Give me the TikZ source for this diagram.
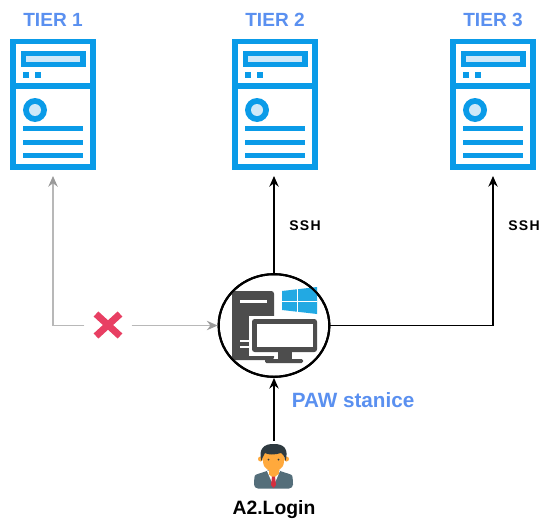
\documentclass[tikz,border=0pt]{standalone}
\usepackage{fontspec}
\setmainfont{Liberation Sans}
\usetikzlibrary{arrows.meta,shapes.geometric}
\definecolor{srvblue}{HTML}{0A9BE8}
\definecolor{srvlight}{HTML}{CFE8F8}
\definecolor{tierblue}{HTML}{5A90F0}
\definecolor{pcgrey}{HTML}{4D4D4D}
\definecolor{winblue}{HTML}{22A9E3}
\definecolor{xred}{HTML}{E83F63}
\definecolor{linegrey}{HTML}{B8B8B8}
\definecolor{tipgrey}{HTML}{9A9A9A}
\definecolor{hairc}{HTML}{2E3A40}
\definecolor{skinc}{HTML}{FFA93C}
\definecolor{suitc}{HTML}{546E7A}
\definecolor{tiec}{HTML}{D32F3F}
\tikzset{
  srvline/.style={draw=srvblue,line width=3.8pt},
  srvbar/.style={draw=srvblue,line width=3.6pt},
  anchorbox/.style={draw=none,inner sep=0pt,outer sep=0pt,minimum width=63pt,minimum height=108pt},
  tierlabel/.style={text=tierblue,font=\bfseries\fontsize{14.3pt}{16pt}\selectfont,inner sep=0pt},
  sshlabel/.style={text=black,font=\bfseries\fontsize{10.5pt}{12pt}\selectfont\addfontfeature{LetterSpace=9},inner sep=0pt},
  blackarrow/.style={draw=black,line width=1.1pt,-{Stealth[length=8pt,width=7pt]}},
  greyarrow/.style={draw=linegrey,line width=1.3pt,-{Stealth[length=8pt,width=7pt,color=tipgrey]}},
  pawring/.style={draw=black,line width=1.6pt,ellipse,inner sep=0pt,minimum width=83pt,minimum height=77pt},
}
\newcommand{\serverIcon}[1]{%
  \begin{scope}[shift={(#1,0)}]
    \draw[srvline] (-40,41.5) rectangle (40,167);
    \draw[srvline] (-40,86) -- (40,86);
    \fill[srvblue] (-32,50.7) rectangle (33,66.7);
    \fill[srvlight] (-27,55.7) rectangle (27,61.7);
    \fill[srvblue] (-30.3,72) rectangle (-24.3,77.5);
    \fill[srvblue] (-18.3,72) rectangle (-12.3,77.5);
    \fill[srvblue] (-18,110) circle[radius=12];
    \fill[srvlight] (-18,110) circle[radius=6];
    \draw[srvbar] (-30,128.7) -- (30,128.7);
    \draw[srvbar] (-30,142.3) -- (30,142.3);
    \draw[srvbar] (-30,155.5) -- (30,155.5);
  \end{scope}}
\begin{document}
\begin{tikzpicture}[x=0.75pt,y=-0.75pt]
\useasboundingbox (0,0) rectangle (542,521);
\fill[white] (0,0) rectangle (542,521);
% servers
\serverIcon{53}\serverIcon{275}\serverIcon{493}
\node[anchorbox] (srvA) at (53,104) {};
\node[anchorbox] (srvB) at (274,104) {};
\node[anchorbox] (srvC) at (493,104) {};
\node[tierlabel] (tierA) at (53,20) {TIER 1};
\node[tierlabel] (tierB) at (275,20) {TIER 2};
\node[tierlabel] (tierC) at (493,20) {TIER 3};
% PAW
\node[pawring,fill=white] (paw) at (274,325.5) {};
% tower
\fill[pcgrey,rounded corners=2pt] (232,291) rectangle (274,360);
\fill[white] (240,299.5) rectangle (267,302.5);
\fill[white] (240,340) rectangle (250,342);
\fill[white] (240,346) rectangle (252,348);
% monitor
\fill[white] (249,316) rectangle (300,356);
\fill[pcgrey,rounded corners=2pt] (252,319) rectangle (317,352);
\fill[white] (257,323.5) rectangle (313,347);
\fill[pcgrey] (278,352) rectangle (292,360);
\fill[pcgrey,rounded corners=1pt] (265,359) rectangle (303,363);
% windows logo
\fill[winblue] (282,291) -- (317,287) -- (317,314) -- (282,310) -- cycle;
\draw[white,line width=0.7pt] (297,288) -- (297,313);
\draw[white,line width=0.7pt] (282,301) -- (317,301);
\node[pawring] (pawtop) at (paw.center) {};
% cross
\node[draw=none,inner sep=0pt,minimum width=35pt,minimum height=24pt] (xmark) at (108,325.5) {};
\draw[xred,line width=5.2pt] (96,314) -- (120,336);
\draw[xred,line width=5.2pt] (120,314) -- (96,336);
% person
\node[draw=none,inner sep=0pt,minimum width=30pt,minimum height=36pt] (user) at (274,465.5) {};
\fill[suitc,rounded corners=3pt] (254,488.5) -- (254,480) .. controls (255,474) and (262,473) .. (268,470) -- (279,470) .. controls (285,473) and (292,474) .. (293,480) -- (293,488.5) -- cycle;
\fill[white] (267,471) -- (280,471) -- (273.5,486) -- cycle;
\fill[skinc] (268.5,466) rectangle (278.5,474);
\fill[skinc] (268.5,474) -- (278.5,474) -- (273.5,478) -- cycle;
\fill[tiec] (272,476.5) -- (275,476.5) -- (276,485) -- (273.5,488) -- (271,485) -- cycle;
\fill[skinc] (260.5,459) circle[radius=2.5];
\fill[skinc] (286.5,459) circle[radius=2.5];
\fill[skinc] (263,452) rectangle (284,462) ;
\fill[skinc] (263,462) .. controls (264,470) and (270,471) .. (273.5,471) .. controls (277,471) and (283,470) .. (284,462) -- cycle;
\fill[hairc] (261.5,461) .. controls (258,449) and (264,443.5) .. (274,444) .. controls (284,444) and (289,449) .. (285.5,461) .. controls (284.5,456) and (283,454) .. (281,453) .. controls (275,455) and (268,455) .. (265,453) .. controls (264,455) and (262.5,457) .. (261.5,461) -- cycle;
\fill[hairc] (268.5,459.5) circle[radius=1];
\fill[hairc] (278.5,459.5) circle[radius=1];
% connectors
\draw[blackarrow] (paw.north) -- (srvB.south);
\draw[blackarrow] (paw.east) -| (srvC.south);
\draw[blackarrow] (user.north) -- (paw.south);
\draw[greyarrow] (xmark.west) -| (srvA.south);
\draw[greyarrow] (xmark.east) -- (paw.west);
% labels
\node[sshlabel] (sshB) at (305,226) {SSH};
\node[sshlabel] (sshC) at (524,226) {SSH};
\node[text=tierblue,font=\bfseries\fontsize{15.5pt}{17pt}\selectfont,inner sep=0pt] (pawlabel) at (353,400) {PAW stanice};
\node[text=black,font=\bfseries\fontsize{14.5pt}{16pt}\selectfont,inner sep=0pt] (loginlabel) at (274,510) {A2.Login};
\end{tikzpicture}
\end{document}
